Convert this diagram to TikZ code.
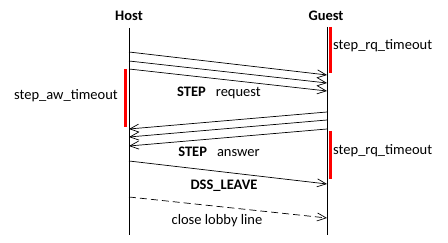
\documentclass[tikz,border=0pt]{standalone}
\usepackage{fontspec}
\setmainfont{Carlito}
\usetikzlibrary{arrows.meta}
\begin{document}
\begin{tikzpicture}[x=1pt,y=-1pt,
  lifeline/.style={line width=0.8pt},
  msg/.style={line width=0.7pt,-{Straight Barb[length=9pt,width=8pt,line width=0.7pt]}},
  dashedmsg/.style={msg,dash pattern=on 7pt off 4pt},
  timer/.style={red,line width=3pt},
  actor/.style={font=\fontsize{14.5}{16}\selectfont\bfseries,inner sep=0pt},
  lbl/.style={font=\fontsize{14.5}{16}\selectfont,inner sep=0pt},
]
\useasboundingbox (0,0) rectangle (448,243);
% actors
\node[actor] (host) at (129,16) {Host};
\node[actor] (guest) at (326,16) {Guest};
% lifelines
\coordinate (htop) at (129,28);
\coordinate (hbot) at (129,235);
\coordinate (gtop) at (327,27);
\coordinate (gbot) at (327,235);
\draw[lifeline] (htop) -- (hbot);
\draw[lifeline] (gtop) -- (gbot);
% message anchors on host lifeline
\coordinate (h1) at (129,52);
\coordinate (h2) at (129,61);
\coordinate (h3) at (129,69);
\coordinate (h4) at (129,129);
\coordinate (h5) at (129,137);
\coordinate (h6) at (129,146);
\coordinate (h7) at (129,161);
\coordinate (h8) at (129,197);
% message anchors on guest lifeline
\coordinate (g1) at (327,75);
\coordinate (g2) at (327,83);
\coordinate (g3) at (327,91);
\coordinate (g4) at (327,112);
\coordinate (g5) at (327,120);
\coordinate (g6) at (327,129);
\coordinate (g7) at (327,184);
\coordinate (g8) at (327,218);
% STEP request
\draw[msg] (h1) -- (g1);
\draw[msg] (h2) -- (g2);
\draw[msg] (h3) -- (g3);
% STEP answer
\draw[msg] (g4) -- (h4);
\draw[msg] (g5) -- (h5);
\draw[msg] (g6) -- (h6);
% leave and close
\draw[msg] (h7) -- (g7);
\draw[dashedmsg] (h8) -- (g8);
% timers
\coordinate (rq1a) at (330,27);
\coordinate (rq1b) at (330,73);
\coordinate (awa) at (125,69);
\coordinate (awb) at (125,127);
\coordinate (rq2a) at (330,131);
\coordinate (rq2b) at (330,179);
\draw[timer] (rq1a) -- (rq1b);
\draw[timer] (awa) -- (awb);
\draw[timer] (rq2a) -- (rq2b);
% labels
\node[lbl,anchor=west] (trq1) at (333,46) {step\_rq\_timeout};
\node[lbl,anchor=west] (trq2) at (333,151) {step\_rq\_timeout};
\node[lbl,anchor=east] (taw) at (118,96) {step\_aw\_timeout};
\node[lbl] (req) at (219,93) {\textbf{STEP}\hspace{10pt}request};
\node[lbl] (ans) at (219,152) {\textbf{STEP}\hspace{10pt}answer};
\node[lbl] (leave) at (224,186) {\textbf{DSS\_LEAVE}};
\node[lbl] (close) at (217,221) {close lobby line};
\end{tikzpicture}
\end{document}
